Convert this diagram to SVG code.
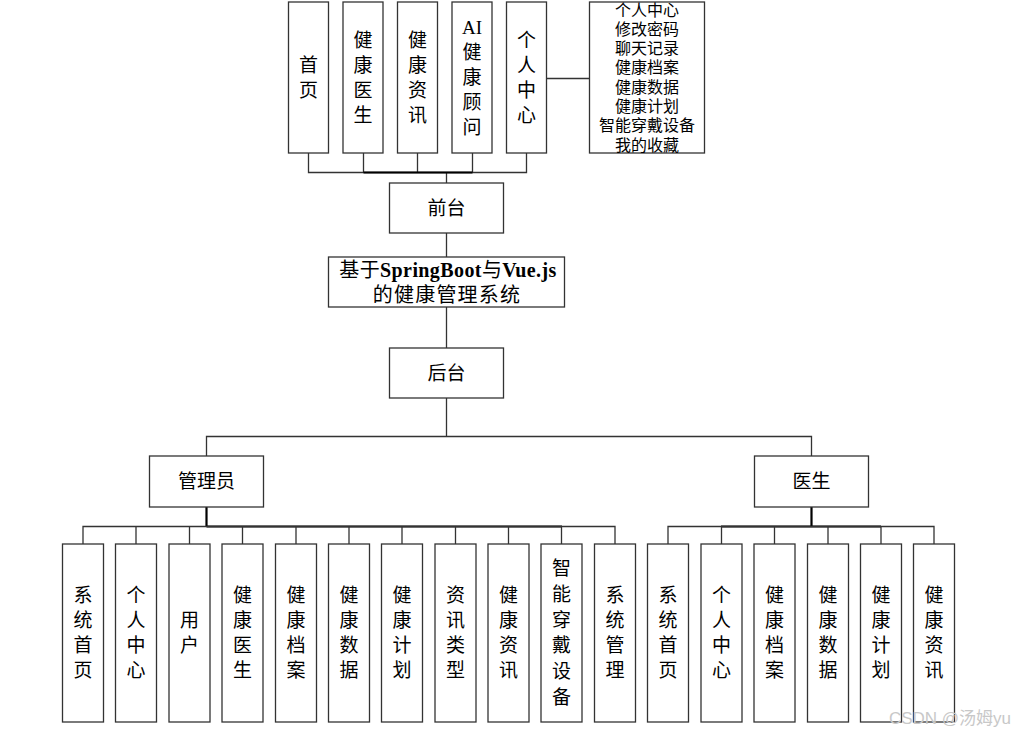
<svg xmlns="http://www.w3.org/2000/svg" width="1015" height="735" viewBox="0 0 1015 735">
<style>
.box{fill:#fff;stroke:#333;stroke-width:1.3}
.ln{stroke:#333;stroke-width:1.3;fill:none}
.thick{stroke:#000;stroke-width:2.2;fill:none}
text{font-family:"Liberation Serif","Noto Sans CJK SC",serif;font-size:19px;fill:#000;text-anchor:middle}
.sm{font-size:16px}
.big{font-size:20px;letter-spacing:1.2px}
.big1{font-size:20px;letter-spacing:0.4px}
.wm{font-family:"Liberation Sans","Noto Sans CJK SC",sans-serif;font-size:17px;fill:#c8c8c8;text-anchor:end}
</style>
<rect width="1015" height="735" fill="#fff"/>
<g id="connectors">
<path class="ln" d="M308.5 153V172.5H526.5V153M363.5 153V172.5M417.5 153V172.5M472.5 153V172.5M446.5 172.5V183"/>
<path class="thick" d="M363.5 172.5H472.5"/>
<path class="ln" d="M546 78.5H589"/>
<path class="ln" d="M446.5 233V257M446.5 307V348M446.5 398V436.5M206.5 456V436.5H811.5V456"/>
<path class="thick" d="M206.5 507V526.5M206.5 526.5H562M811.5 507V526.5M721 526.5H881"/>
<path class="ln" d="M83 544V526.5H615V544M136 526.5V544M189.5 526.5V544M242.5 526.5V544M296 526.5V544M349 526.5V544M402 526.5V544M455.5 526.5V544M508.5 526.5V544M561.5 526.5V544"/>
<path class="ln" d="M668 544V526.5H934V544M721.5 526.5V544M774.5 526.5V544M828 526.5V544M881 526.5V544"/>
</g>
<g id="n-shouye"><rect class="box" x="288.5" y="2" width="40" height="151"/><text x="308.5" y="72">首<tspan x="308.5" dy="25">页</tspan></text></g>
<g id="n-jkys"><rect class="box" x="343" y="2" width="40" height="151"/><text x="363" y="47">健<tspan x="363" dy="25">康</tspan><tspan x="363" dy="25">医</tspan><tspan x="363" dy="25">生</tspan></text></g>
<g id="n-jkzx"><rect class="box" x="397.5" y="2" width="40" height="151"/><text x="417.5" y="47">健<tspan x="417.5" dy="25">康</tspan><tspan x="417.5" dy="25">资</tspan><tspan x="417.5" dy="25">讯</tspan></text></g>
<g id="n-ai"><rect class="box" x="452" y="2" width="40" height="151"/><text x="472" y="34">AI<tspan x="472" dy="25">健</tspan><tspan x="472" dy="25">康</tspan><tspan x="472" dy="25">顾</tspan><tspan x="472" dy="25">问</tspan></text></g>
<g id="n-grzx"><rect class="box" x="506.5" y="2" width="40" height="151"/><text x="526.5" y="47">个<tspan x="526.5" dy="25">人</tspan><tspan x="526.5" dy="25">中</tspan><tspan x="526.5" dy="25">心</tspan></text></g>
<g id="n-list"><rect class="box" x="589.5" y="2" width="115" height="151"/><text class="sm" x="647" y="15.5">个人中心<tspan x="647" dy="19.3">修改密码</tspan><tspan x="647" dy="19.3">聊天记录</tspan><tspan x="647" dy="19.3">健康档案</tspan><tspan x="647" dy="19.3">健康数据</tspan><tspan x="647" dy="19.3">健康计划</tspan><tspan x="647" dy="19.3">智能穿戴设备</tspan><tspan x="647" dy="19.3">我的收藏</tspan></text></g>
<g id="n-qiantai"><rect class="box" x="389.5" y="183" width="114" height="50"/><text x="446.5" y="215">前台</text></g>
<g id="n-main"><rect class="box" x="328.5" y="257" width="236" height="50"/><text class="big1" x="448" y="277">基于<tspan font-weight="bold">SpringBoot</tspan>与<tspan font-weight="bold">Vue.js</tspan></text><text class="big" x="447" y="302">的健康管理系统</text></g>
<g id="n-houtai"><rect class="box" x="389.5" y="348" width="114" height="50"/><text x="446.5" y="380">后台</text></g>
<g id="n-admin"><rect class="box" x="149.5" y="456" width="114" height="51"/><text x="206.5" y="488">管理员</text></g>
<g id="n-doctor"><rect class="box" x="754.5" y="456" width="114" height="51"/><text x="811.5" y="488">医生</text></g>
<g id="a1"><rect class="box" x="62.5" y="544" width="41" height="178"/><text x="83" y="602">系<tspan x="83" dy="25">统</tspan><tspan x="83" dy="25">首</tspan><tspan x="83" dy="25">页</tspan></text></g>
<g id="a2"><rect class="box" x="115.5" y="544" width="41" height="178"/><text x="136" y="602">个<tspan x="136" dy="25">人</tspan><tspan x="136" dy="25">中</tspan><tspan x="136" dy="25">心</tspan></text></g>
<g id="a3"><rect class="box" x="169" y="544" width="41" height="178"/><text x="189.5" y="627">用<tspan x="189.5" dy="25">户</tspan></text></g>
<g id="a4"><rect class="box" x="222" y="544" width="41" height="178"/><text x="242.5" y="602">健<tspan x="242.5" dy="25">康</tspan><tspan x="242.5" dy="25">医</tspan><tspan x="242.5" dy="25">生</tspan></text></g>
<g id="a5"><rect class="box" x="275.5" y="544" width="41" height="178"/><text x="296" y="602">健<tspan x="296" dy="25">康</tspan><tspan x="296" dy="25">档</tspan><tspan x="296" dy="25">案</tspan></text></g>
<g id="a6"><rect class="box" x="328.5" y="544" width="41" height="178"/><text x="349" y="602">健<tspan x="349" dy="25">康</tspan><tspan x="349" dy="25">数</tspan><tspan x="349" dy="25">据</tspan></text></g>
<g id="a7"><rect class="box" x="381.5" y="544" width="41" height="178"/><text x="402" y="602">健<tspan x="402" dy="25">康</tspan><tspan x="402" dy="25">计</tspan><tspan x="402" dy="25">划</tspan></text></g>
<g id="a8"><rect class="box" x="435" y="544" width="41" height="178"/><text x="455.5" y="602">资<tspan x="455.5" dy="25">讯</tspan><tspan x="455.5" dy="25">类</tspan><tspan x="455.5" dy="25">型</tspan></text></g>
<g id="a9"><rect class="box" x="488" y="544" width="41" height="178"/><text x="508.5" y="602">健<tspan x="508.5" dy="25">康</tspan><tspan x="508.5" dy="25">资</tspan><tspan x="508.5" dy="25">讯</tspan></text></g>
<g id="a10"><rect class="box" x="541" y="544" width="41" height="178"/><text x="561.5" y="575">智<tspan x="561.5" dy="25.8">能</tspan><tspan x="561.5" dy="25.8">穿</tspan><tspan x="561.5" dy="25.8">戴</tspan><tspan x="561.5" dy="25.8">设</tspan><tspan x="561.5" dy="25.8">备</tspan></text></g>
<g id="a11"><rect class="box" x="594.5" y="544" width="41" height="178"/><text x="615" y="602">系<tspan x="615" dy="25">统</tspan><tspan x="615" dy="25">管</tspan><tspan x="615" dy="25">理</tspan></text></g>
<g id="d1"><rect class="box" x="647.5" y="544" width="41" height="178"/><text x="668" y="602">系<tspan x="668" dy="25">统</tspan><tspan x="668" dy="25">首</tspan><tspan x="668" dy="25">页</tspan></text></g>
<g id="d2"><rect class="box" x="701" y="544" width="41" height="178"/><text x="721.5" y="602">个<tspan x="721.5" dy="25">人</tspan><tspan x="721.5" dy="25">中</tspan><tspan x="721.5" dy="25">心</tspan></text></g>
<g id="d3"><rect class="box" x="754" y="544" width="41" height="178"/><text x="774.5" y="602">健<tspan x="774.5" dy="25">康</tspan><tspan x="774.5" dy="25">档</tspan><tspan x="774.5" dy="25">案</tspan></text></g>
<g id="d4"><rect class="box" x="807.5" y="544" width="41" height="178"/><text x="828" y="602">健<tspan x="828" dy="25">康</tspan><tspan x="828" dy="25">数</tspan><tspan x="828" dy="25">据</tspan></text></g>
<g id="d5"><rect class="box" x="860.5" y="544" width="41" height="178"/><text x="881" y="602">健<tspan x="881" dy="25">康</tspan><tspan x="881" dy="25">计</tspan><tspan x="881" dy="25">划</tspan></text></g>
<g id="d6"><rect class="box" x="913.5" y="544" width="41" height="178"/><text x="934" y="602">健<tspan x="934" dy="25">康</tspan><tspan x="934" dy="25">资</tspan><tspan x="934" dy="25">讯</tspan></text></g>
<text class="wm" x="1011" y="724">CSDN @汤姆yu</text>
</svg>
